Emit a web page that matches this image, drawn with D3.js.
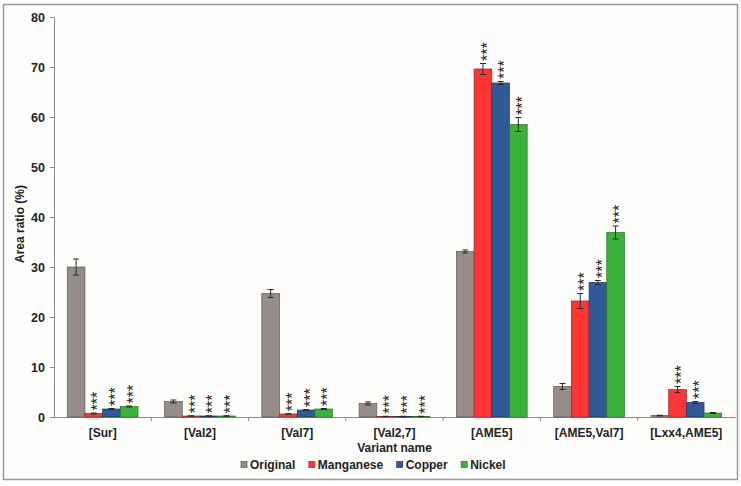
<!DOCTYPE html>
<html>
<head>
<meta charset="utf-8">
<script src="https://cdn.jsdelivr.net/npm/d3@7/dist/d3.min.js"></script>
<style>
  html, body { margin: 0; padding: 0; background: #ffffff; }
  svg { display: block; }
  text { font-family: "Liberation Sans", Arial, sans-serif; }
</style>
</head>
<body>
<script>
// ---------- data ----------
const categories = ["[Sur]", "[Val2]", "[Val7]", "[Val2,7]", "[AME5]", "[AME5,Val7]", "[Lxx4,AME5]"];
const seriesNames = ["Original", "Manganese", "Copper", "Nickel"];

const original  = [30.0, 3.1, 24.7, 2.7, 33.1, 6.1, 0.3];
const manganese = [0.7, 0.2, 0.6, 0.1, 69.6, 23.2, 5.5];
const copper    = [1.6, 0.2, 1.4, 0.1, 66.8, 26.9, 2.9];
const nickel    = [2.1, 0.2, 1.6, 0.1, 58.5, 36.9, 0.8];

const originalErr  = [1.6, 0.3, 0.8, 0.3, 0.3, 0.6, 0.05];
const manganeseErr = [0.1, 0.05, 0.05, 0.05, 1.1, 1.5, 0.6];
const copperErr    = [0.1, 0.05, 0.1, 0.05, 0.3, 0.4, 0.2];
const nickelErr    = [0.1, 0.05, 0.1, 0.05, 1.4, 1.3, 0.1];

const originalSig  = [0, 0, 0, 0, 0, 0, 0];
const manganeseSig = [1, 1, 1, 1, 1, 1, 1];
const copperSig    = [1, 1, 1, 1, 1, 1, 1];
const nickelSig    = [1, 1, 1, 1, 1, 1, 0];

const yTicks = [0, 10, 20, 30, 40, 50, 60, 70, 80];

const colors = {
  Original: "#968d89",
  Manganese: "#fe3535",
  Copper: "#2e5a96",
  Nickel: "#3bb23b"
};
const strokes = {
  Original: "#5e5652",
  Manganese: "#a52020",
  Copper: "#1d3a63",
  Nickel: "#257525"
};

const seriesValues = [original, manganese, copper, nickel];
const seriesErrs = [originalErr, manganeseErr, copperErr, nickelErr];
const seriesSig = [originalSig, manganeseSig, copperSig, nickelSig];

const rows = [];
categories.forEach((c, i) => {
  seriesNames.forEach((s, j) => {
    rows.push({ cat: c, series: s, value: seriesValues[j][i], err: seriesErrs[j][i], sig: seriesSig[j][i] });
  });
});

// ---------- layout ----------
const W = 741, H = 486;
const svg = d3.select("body").append("svg").attr("width", W).attr("height", H);

// outer frame
svg.append("rect")
  .attr("x", 3.5).attr("y", 4.5).attr("width", 734).attr("height", 475)
  .attr("fill", "#fefefc").attr("stroke", "#9a9a9a").attr("stroke-width", 1.5);

const plotL = 54, plotR = 735, plotT = 17, plotB = 417;

const x0 = d3.scaleBand().domain(categories).range([plotL, plotR]).paddingInner(0).paddingOuter(0);
const x1 = d3.scaleBand().domain(seriesNames).range([0, x0.bandwidth()]).paddingInner(0).paddingOuter(0.75);
const y = d3.scaleLinear().domain([0, 80]).range([plotB, plotT]);

// y axis
const yAxis = d3.axisLeft(y).tickValues(yTicks).tickSize(4).tickPadding(5).tickFormat(d3.format("d"));
const gy = svg.append("g").attr("transform", `translate(${plotL},0)`).call(yAxis);
gy.select(".domain").attr("stroke", "#8a8a8a");
gy.selectAll(".tick line").attr("stroke", "#8a8a8a");
gy.selectAll(".tick text")
  .attr("fill", "#222").style("font-size", "12.5px").style("font-weight", "bold")
  .style("font-family", "'Liberation Sans', Arial, sans-serif");

// x axis
const xAxis = d3.axisBottom(x0).tickSize(0).tickPadding(11);
const gx = svg.append("g").attr("transform", `translate(0,${plotB})`).call(xAxis);
gx.select(".domain").attr("stroke", "#8a8a8a");
gx.selectAll(".tick text")
  .attr("fill", "#222").style("font-size", "12px").style("font-weight", "bold")
  .style("font-family", "'Liberation Sans', Arial, sans-serif");
// category separator ticks
gx.selectAll(".sep")
  .data(categories.slice(1))
  .enter().append("line")
  .attr("class", "sep")
  .attr("x1", d => x0(d)).attr("x2", d => x0(d))
  .attr("y1", 0).attr("y2", 4)
  .attr("stroke", "#8a8a8a");

// bars
const barG = svg.append("g");
barG.selectAll("rect")
  .data(rows)
  .enter().append("rect")
  .attr("x", d => x0(d.cat) + x1(d.series))
  .attr("width", x1.bandwidth())
  .attr("y", d => y(d.value))
  .attr("height", d => y(0) - y(d.value))
  .attr("fill", d => colors[d.series])
  .attr("stroke", d => strokes[d.series])
  .attr("stroke-width", 0.7);

// error bars
const errG = svg.append("g").attr("stroke", "#2a2a2a").attr("stroke-width", 1);
rows.forEach(d => {
  const cx = x0(d.cat) + x1(d.series) + x1.bandwidth() / 2;
  const yt = y(d.value + d.err), yb = y(Math.max(0, d.value - d.err));
  errG.append("line").attr("x1", cx).attr("x2", cx).attr("y1", yt).attr("y2", yb);
  errG.append("line").attr("x1", cx - 3).attr("x2", cx + 3).attr("y1", yt).attr("y2", yt);
  errG.append("line").attr("x1", cx - 3).attr("x2", cx + 3).attr("y1", yb).attr("y2", yb);
});

// significance stars
const starG = svg.append("g");
rows.filter(d => d.sig).forEach(d => {
  const cx = x0(d.cat) + x1(d.series) + x1.bandwidth() / 2;
  const yt = y(d.value + d.err) - 2.5;
  starG.append("text")
    .attr("transform", `translate(${cx},${yt}) rotate(-90)`)
    .attr("dy", "0.6em")
    .attr("text-anchor", "start")
    .style("font-size", "16px")
    .attr("fill", "#1a1a1a")
    .text("***");
});

// axis titles
svg.append("text")
  .attr("x", (plotL + plotR) / 2).attr("y", 452)
  .attr("text-anchor", "middle")
  .style("font-size", "12px").style("font-weight", "bold").attr("fill", "#222")
  .text("Variant name");

svg.append("text")
  .attr("transform", `translate(24,224) rotate(-90)`)
  .attr("text-anchor", "middle")
  .style("font-size", "12px").style("font-weight", "bold").attr("fill", "#222")
  .text("Area ratio (%)");

// legend
const legG = svg.append("g");
let lx = 241;
seriesNames.forEach(s => {
  legG.append("rect")
    .attr("x", lx).attr("y", 461.5).attr("width", 6).attr("height", 6)
    .attr("fill", colors[s]).attr("stroke", strokes[s]).attr("stroke-width", 0.7);
  const t = legG.append("text")
    .attr("x", lx + 9).attr("y", 469)
    .style("font-size", "12px").style("font-weight", "bold").attr("fill", "#222")
    .text(s);
  lx += 9 + t.node().getComputedTextLength() + 13.5;
});
</script>
</body>
</html>
